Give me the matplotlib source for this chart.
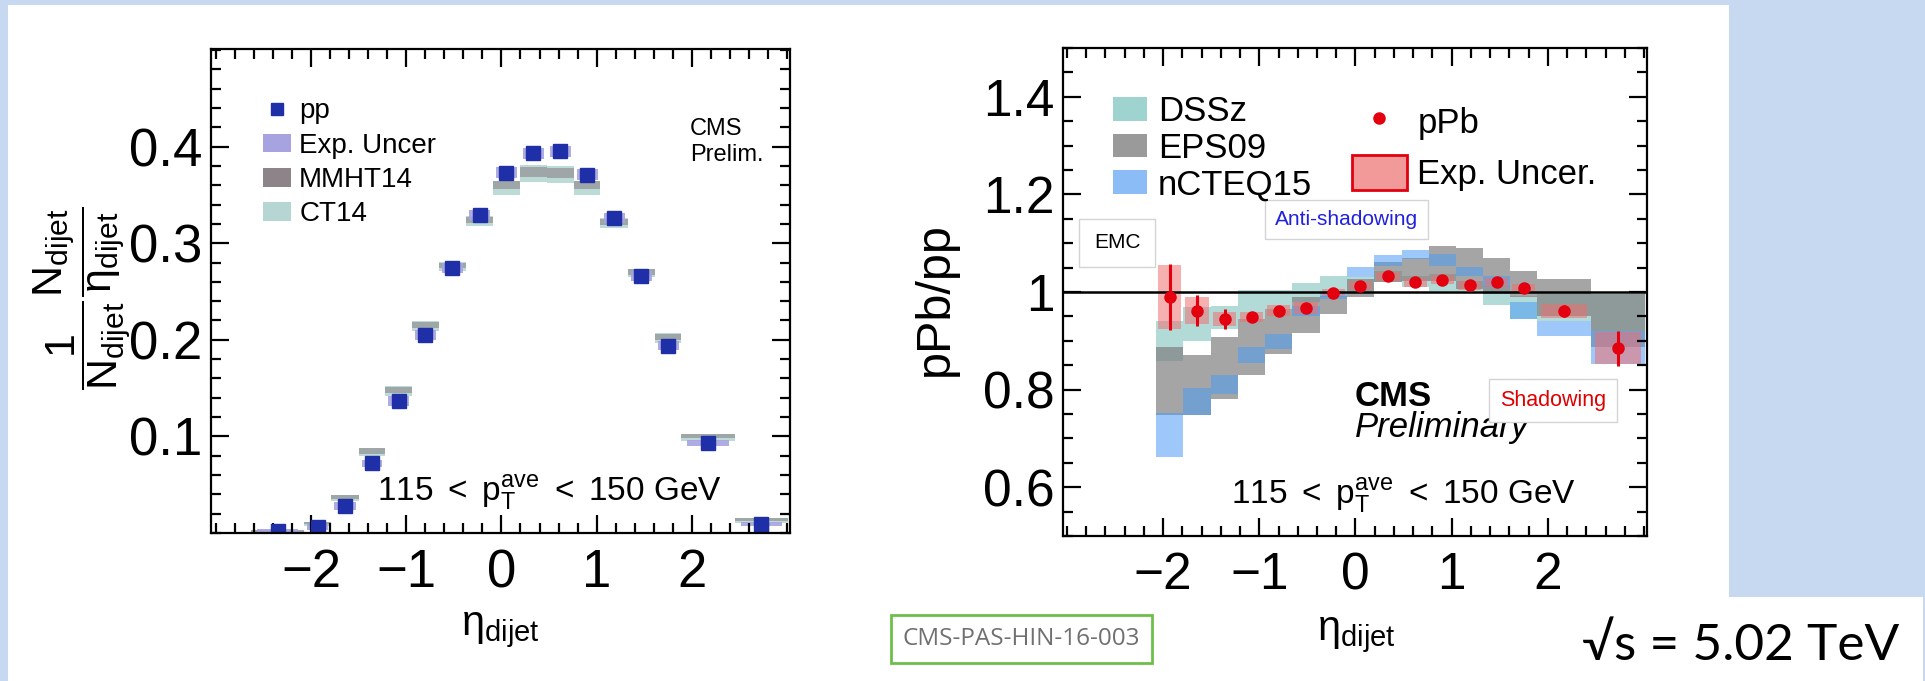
import matplotlib
matplotlib.use('Agg')
import matplotlib.pyplot as plt
from matplotlib.patches import Patch, Rectangle
from matplotlib.lines import Line2D
from matplotlib.ticker import MultipleLocator, FormatStrFormatter
import numpy as np

plt.rcParams['font.family'] = ['Liberation Sans', 'DejaVu Sans']
plt.rcParams['mathtext.fontset'] = 'custom'
plt.rcParams['mathtext.rm'] = 'Liberation Sans'
plt.rcParams['mathtext.it'] = 'Liberation Sans:italic'
plt.rcParams['mathtext.bf'] = 'Liberation Sans:bold'

# eta_dijet binning (left panel uses all bins, right panel drops the first)
eta_edges = np.array([-2.63, -2.07, -1.79, -1.50, -1.22, -0.94, -0.66, -0.37, -0.09,
                      0.19, 0.48, 0.76, 1.04, 1.33, 1.61, 1.89, 2.45, 3.01])
eta_mid = 0.5 * (eta_edges[1:] + eta_edges[:-1])
eta_width = np.diff(eta_edges)
eta_ticks = [-2, -1, 0, 1, 2]

# pp normalised dijet eta distribution
pp_vals = [0.002, 0.006, 0.028, 0.072, 0.137, 0.205, 0.274, 0.329, 0.373,
           0.393, 0.395, 0.371, 0.326, 0.266, 0.194, 0.093, 0.009]
pp_exp = [0.002, 0.003, 0.004, 0.004, 0.005, 0.005, 0.005, 0.005, 0.006,
          0.006, 0.006, 0.006, 0.005, 0.005, 0.005, 0.003, 0.002]
mmht14 = [0.002, 0.010, 0.037, 0.085, 0.148, 0.215, 0.277, 0.324, 0.360,
          0.374, 0.373, 0.360, 0.322, 0.270, 0.203, 0.100, 0.014]
mmht14_err = [0.001, 0.001, 0.002, 0.003, 0.003, 0.003, 0.003, 0.003, 0.004,
              0.005, 0.005, 0.004, 0.003, 0.003, 0.003, 0.002, 0.002]
ct14 = [0.002, 0.009, 0.036, 0.084, 0.147, 0.214, 0.276, 0.323, 0.357,
        0.372, 0.371, 0.357, 0.321, 0.269, 0.202, 0.099, 0.013]
ct14_err = [0.001, 0.002, 0.003, 0.004, 0.005, 0.005, 0.005, 0.005, 0.007,
            0.009, 0.009, 0.007, 0.005, 0.004, 0.005, 0.004, 0.003]

# pPb/pp ratio
ppb_vals = [0.990, 0.962, 0.945, 0.949, 0.962, 0.967, 0.999, 1.013, 1.032,
            1.020, 1.025, 1.014, 1.020, 1.008, 0.961, 0.885]
ppb_stat = [0.068, 0.031, 0.020, 0.010, 0.006, 0.005, 0.005, 0.005, 0.005,
            0.005, 0.005, 0.005, 0.006, 0.008, 0.012, 0.036]
ppb_sys = [0.066, 0.028, 0.014, 0.010, 0.011, 0.012, 0.008, 0.009, 0.009,
           0.009, 0.009, 0.009, 0.009, 0.009, 0.015, 0.033]
dssz_lo = [0.859, 0.900, 0.924, 0.945, 0.965, 0.979, 0.989, 1.003, 1.020,
           1.010, 1.003, 1.003, 0.973, 0.945, 0.941, 0.921]
dssz_hi = [0.941, 0.970, 0.971, 1.005, 1.005, 1.018, 1.032, 1.030, 1.044,
           1.033, 1.037, 1.023, 1.013, 0.992, 0.996, 0.995]
eps09_lo = [0.747, 0.747, 0.781, 0.829, 0.873, 0.917, 0.955, 0.989, 1.020,
            1.023, 1.023, 1.006, 0.996, 0.990, 0.951, 0.887]
eps09_hi = [0.887, 0.871, 0.907, 0.945, 0.965, 0.989, 0.992, 1.027, 1.061,
            1.069, 1.095, 1.090, 1.069, 1.044, 1.027, 0.995]
ncteq_lo = [0.662, 0.747, 0.791, 0.855, 0.883, 0.951, 0.985, 1.030, 1.054,
            1.068, 1.054, 1.033, 1.010, 0.945, 0.909, 0.852]
ncteq_hi = [0.752, 0.804, 0.829, 0.887, 0.914, 0.972, 1.000, 1.051, 1.076,
            1.087, 1.078, 1.051, 1.033, 0.979, 0.941, 0.921]

c_pp = '#1f2fa8'
c_exp = '#a7a2e0'
c_mmht = '#8c8488'
c_ct14 = '#b5d6d2'
c_dssz = '#9fd3cf'
c_eps = '#7f7f7f'
c_ncteq = '#4d9cf5'
c_red = '#e3000f'

pt_label = r'$115\ <\ \mathrm{p}_{\mathrm{T}}^{\mathrm{ave}}\ <\ 150\ \mathrm{GeV}$'

fig = plt.figure(figsize=(19.25, 6.81), dpi=100, facecolor='#c6d9f0')
fig.add_artist(Rectangle((0.0042, 0.0), 0.894, 0.9927, transform=fig.transFigure,
                         facecolor='white', edgecolor='none', zorder=-10))
fig.add_artist(Rectangle((0.0042, 0.0), 0.9948, 0.1233, transform=fig.transFigure,
                         facecolor='white', edgecolor='none', zorder=-10))

ax1 = fig.add_axes([0.1096, 0.2173, 0.3008, 0.7107])
ax2 = fig.add_axes([0.5522, 0.2129, 0.3034, 0.7166])

for ax in (ax1, ax2):
    ax.set_facecolor('none')
    for s in ax.spines.values():
        s.set_linewidth(1.6)
    ax.tick_params(which='both', direction='in', top=True, right=True, width=1.6)
    ax.tick_params(which='major', length=13)
    ax.tick_params(which='minor', length=7)
    ax.tick_params(axis='x', pad=11)
    ax.tick_params(axis='y', pad=6)
    ax.set_xticks(eta_ticks)
    ax.xaxis.set_minor_locator(MultipleLocator(0.2))

# ---- left: pp distribution vs PDFs
ax1.bar(eta_mid, 2 * np.array(ct14_err), width=eta_width, bottom=np.array(ct14) - ct14_err,
        color=c_ct14, alpha=0.9, linewidth=0)
ax1.bar(eta_mid, 2 * np.array(mmht14_err), width=eta_width, bottom=np.array(mmht14) - mmht14_err,
        color=c_mmht, alpha=0.6, linewidth=0)
ax1.bar(eta_mid, 2 * np.array(pp_exp), width=0.78 * eta_width, bottom=np.array(pp_vals) - pp_exp,
        color=c_exp, alpha=0.9, linewidth=0)
ax1.plot(eta_mid, pp_vals, 's', color=c_pp, ms=9.5, mec=c_pp)

ax1.set_xlim(-3.05, 3.03)
ax1.set_ylim(0, 0.501)
ax1.set_yticks([0.1, 0.2, 0.3, 0.4])
ax1.yaxis.set_minor_locator(MultipleLocator(0.02))
ax1.yaxis.set_major_formatter(FormatStrFormatter('%.1f'))
ax1.tick_params(labelsize=38)

ax1.set_xlabel(r'$\mathrm{\eta_{dijet}}$', fontsize=30)
ax1.xaxis.set_label_coords(0.5, -0.16)
# the stacked fraction sits partly over the tick labels, as in the CMS figure
fig.text(0.043, 0.561,
         r'$\dfrac{1}{\mathrm{N_{dijet}}}\dfrac{\mathrm{N_{dijet}}}{\mathrm{\eta_{dijet}}}$',
         rotation=90, fontsize=31, ha='center', va='center')

ax1.text(-1.31, 0.034, pt_label, fontsize=24, va='baseline')
ax1.text(0.827, 0.822, 'CMS', transform=ax1.transAxes, fontsize=17, va='baseline')
ax1.text(0.827, 0.769, 'Prelim.', transform=ax1.transAxes, fontsize=17, va='baseline')

h1 = [Line2D([], [], marker='s', ls='none', color=c_pp, ms=8),
      Patch(facecolor=c_exp, edgecolor='none'),
      Patch(facecolor=c_mmht, edgecolor='none'),
      Patch(facecolor=c_ct14, edgecolor='none')]
ax1.legend(h1, ['pp', 'Exp. Uncer', 'MMHT14', 'CT14'], loc='upper left',
           bbox_to_anchor=(0.09, 0.898), frameon=False, fontsize=20,
           handlelength=1.0, handleheight=0.66, handletextpad=0.3,
           labelspacing=0.3, borderpad=0, borderaxespad=0)

# ---- right: pPb/pp ratio vs nPDFs
x2 = eta_mid[1:]
w2 = eta_width[1:]
ax2.bar(x2, np.subtract(dssz_hi, dssz_lo), width=w2, bottom=dssz_lo,
        color=c_dssz, alpha=0.8, linewidth=0)
ax2.bar(x2, np.subtract(eps09_hi, eps09_lo), width=w2, bottom=eps09_lo,
        color=c_eps, alpha=0.7, linewidth=0)
ax2.bar(x2, np.subtract(ncteq_hi, ncteq_lo), width=w2, bottom=ncteq_lo,
        color=c_ncteq, alpha=0.55, linewidth=0)
ax2.bar(x2, 2 * np.array(ppb_sys), width=0.85 * w2, bottom=np.array(ppb_vals) - ppb_sys,
        color='#f07070', alpha=0.55, linewidth=0)
ax2.axhline(1, color='black', lw=1.8)
ax2.errorbar(x2, ppb_vals, yerr=ppb_stat, fmt='o', color=c_red, ms=8,
             elinewidth=2.2, capsize=0)

ax2.set_xlim(-3.04, 3.03)
ax2.set_ylim(0.5, 1.5)
ax2.set_yticks([0.6, 0.8, 1.0, 1.2, 1.4])
ax2.yaxis.set_minor_locator(MultipleLocator(0.05))
ax2.yaxis.set_major_formatter(FormatStrFormatter('%g'))
ax2.tick_params(labelsize=37)

ax2.set_xlabel(r'$\mathrm{\eta_{dijet}}$', fontsize=30)
ax2.xaxis.set_label_coords(0.503, -0.162)
fig.text(0.4857, 0.561, 'pPb/pp', rotation=90, fontsize=35, ha='center', va='center')

ax2.text(-1.29, 0.566, pt_label, fontsize=24, va='baseline')
ax2.text(0.5, 0.267, 'CMS', transform=ax2.transAxes, fontsize=25,
         fontweight='bold', va='baseline')
ax2.text(0.5, 0.203, 'Preliminary', transform=ax2.transAxes, fontsize=25,
         fontstyle='italic', va='baseline')

box = dict(boxstyle='square,pad=0.5', facecolor='white', edgecolor='#d4d4d4', lw=1)
ax2.text(0.4854, 0.6486, 'Anti-shadowing', transform=ax2.transAxes, fontsize=15,
         color='#2020e0', ha='center', va='center', bbox=box)
ax2.text(0.0925, 0.601, 'EMC', transform=ax2.transAxes, fontsize=15,
         ha='center', va='center', bbox=dict(box, boxstyle='square,pad=0.7'))
ax2.text(0.839, 0.2777, 'Shadowing', transform=ax2.transAxes, fontsize=15.5,
         color='#e00000', ha='center', va='center', bbox=box)

h2 = [Patch(facecolor=c_dssz, edgecolor='none'),
      Patch(facecolor='#9a9a9a', edgecolor='none'),
      Patch(facecolor='#8cbcf5', edgecolor='none')]
leg2 = ax2.legend(h2, ['DSSz', 'EPS09', 'nCTEQ15'], loc='upper left',
                  bbox_to_anchor=(0.085, 0.903), frameon=False, fontsize=25,
                  handlelength=1.0, handleheight=0.66, handletextpad=0.3,
                  labelspacing=0.1, borderpad=0, borderaxespad=0)
ax2.add_artist(leg2)
h3 = [Line2D([], [], marker='o', ls='none', color=c_red, ms=8),
      Patch(facecolor='#f29a9a', edgecolor=c_red, lw=2)]
ax2.legend(h3, ['pPb', 'Exp. Uncer.'], loc='upper left',
           bbox_to_anchor=(0.4949, 0.886), frameon=False, fontsize=25,
           handlelength=1.58, handleheight=1.2, handletextpad=0.3,
           labelspacing=0.42, borderpad=0, borderaxespad=0)

fig.text(0.5306, 0.0617, 'CMS-PAS-HIN-16-003', fontsize=17.5, family=['Open Sans', 'DejaVu Sans'],
         color='#707070', ha='center', va='center',
         bbox=dict(boxstyle='square,pad=0.5', facecolor='white', edgecolor='#6cc04a', lw=2))
fig.text(0.9042, 0.0308, '√s = 5.02 TeV', fontsize=37, family=['Lato', 'DejaVu Sans'],
         ha='center', va='baseline')

fig.savefig('out.png', dpi=100, facecolor=fig.get_facecolor())
